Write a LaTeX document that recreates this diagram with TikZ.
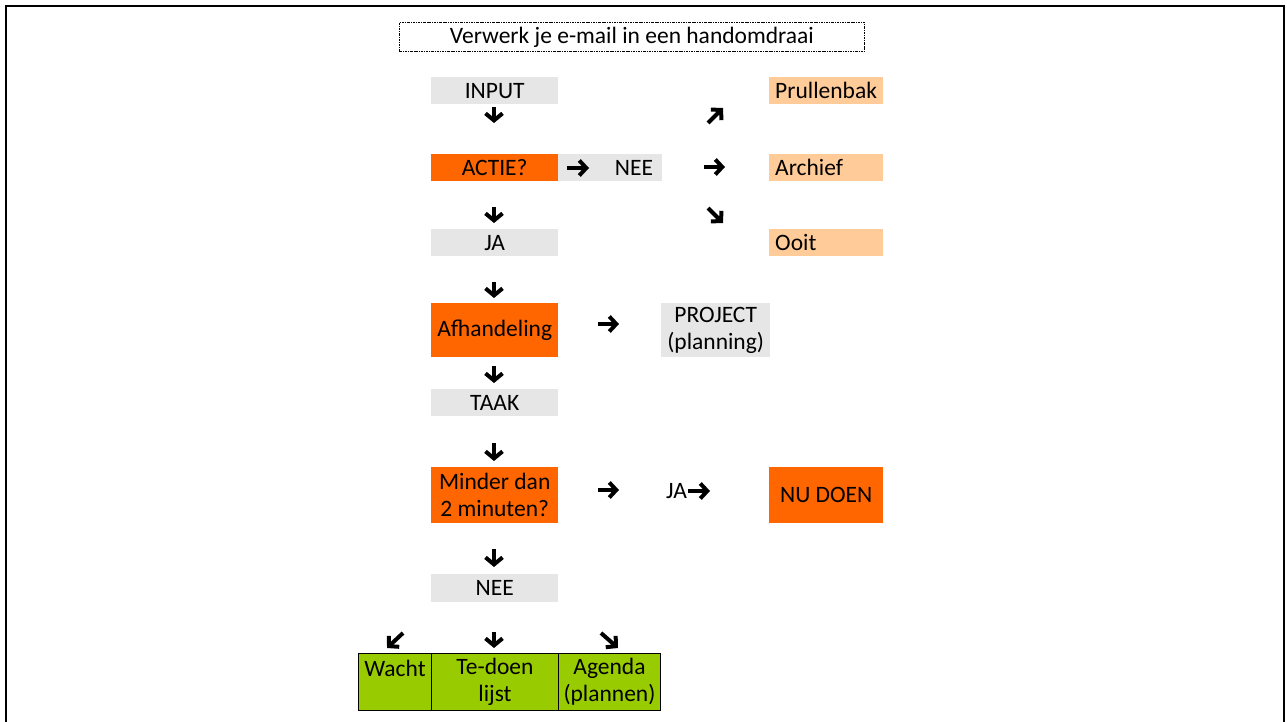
\documentclass[tikz,border=0pt]{standalone}
\usepackage{fontspec}
\setmainfont{Carlito}
\usetikzlibrary{arrows.meta}
\definecolor{oranje}{HTML}{FF6600}
\definecolor{grijs}{HTML}{E6E6E6}
\definecolor{perzik}{HTML}{FFCC99}
\definecolor{groen}{HTML}{99CC00}
\begin{document}
\begin{tikzpicture}[x=1pt,y=-1pt,
  box/.style={anchor=north west, inner sep=0pt, align=center, font=\fontsize{23.5}{27}\selectfont},
  greybox/.style={box, fill=grijs},
  orangebox/.style={box, fill=oranje},
  peachbox/.style={box, fill=perzik, align=left, text width=102pt, inner xsep=6pt, minimum height=27pt},
  greenbox/.style={box, fill=groen, draw=black, line width=1pt},
  plain/.style={inner sep=0pt, font=\fontsize{23.5}{27}\selectfont},
  warr/.style={line width=4pt, -{Straight Barb[length=7pt, width=15pt, line width=4pt]}},
  darr/.style={line width=4pt, -{Straight Barb[length=7pt, width=17pt, line width=4pt]}},
]
\useasboundingbox (0,0) rectangle (1287,722);
\begin{scope}
  \clip (0,0) rectangle (1287,722);
  \draw[line width=2.2pt] (6.3,6.3) rectangle (1283.7,760);
\end{scope}

% title
\node[box, draw, line width=0.8pt, dash pattern=on 2.5pt off 1pt on 0.8pt off 1pt,
      minimum width=465pt, minimum height=29pt] (title) at (399,22) {Verwerk je e-mail in een handomdraai};

% main column
\node[greybox, minimum width=127pt, minimum height=27pt] (input) at (431,77) {INPUT};
\node[orangebox, minimum width=127pt, minimum height=27pt] (actie) at (431,154) {ACTIE?};
\node[greybox, minimum width=104pt, minimum height=27pt] (nee1bg) at (558,154) {};
\node[plain] (nee1) at (634,168) {NEE};
\node[greybox, minimum width=127pt, minimum height=27pt] (ja1) at (431,229) {JA};
\node[orangebox, minimum width=127pt, minimum height=54pt] (afh) at (431,303) {Afhandeling};
\node[greybox, minimum width=109pt, minimum height=54pt] (project) at (661,303) {PROJECT\\(planning)};
\node[greybox, minimum width=127pt, minimum height=27pt] (taak) at (431,389) {TAAK};
\node[orangebox, minimum width=127pt, minimum height=56pt] (minder) at (431,467) {Minder dan\\2 minuten?};
\node[plain, anchor=west] (ja2) at (666,491) {JA};
\node[orangebox, minimum width=114pt, minimum height=56pt] (nudoen) at (769,467) {NU DOEN};
\node[greybox, minimum width=127pt, minimum height=28pt] (nee2) at (431,574) {NEE};

% right column
\node[peachbox] (prul) at (769,77) {Prullenbak};
\node[peachbox] (archief) at (769,154) {Archief};
\node[peachbox] (ooit) at (769,229) {Ooit};

% bottom row
\node[greenbox, minimum width=73pt, minimum height=57pt] (wacht) at (358,653) {Wacht\\~};
\node[greenbox, minimum width=127pt, minimum height=57pt] (tedoen) at (431,653) {Te-doen\\lijst};
\node[greenbox, minimum width=102pt, minimum height=57pt] (agenda) at (558,653) {Agenda\\(plannen)};

% arrow glyphs
\coordinate (a1s) at (494,107); \coordinate (a1e) at (494,123);
\draw[darr] (a1s) -- (a1e);
\coordinate (a2s) at (567,168); \coordinate (a2e) at (589,168);
\draw[warr] (a2s) -- (a2e);
\coordinate (a3s) at (708,123); \coordinate (a3e) at (723,108);
\draw[warr] (a3s) -- (a3e);
\coordinate (a4s) at (704,167); \coordinate (a4e) at (725,167);
\draw[warr] (a4s) -- (a4e);
\coordinate (a5s) at (708,208); \coordinate (a5e) at (723,223);
\draw[warr] (a5s) -- (a5e);
\coordinate (a6s) at (494,207); \coordinate (a6e) at (494,223);
\draw[darr] (a6s) -- (a6e);
\coordinate (a7s) at (494,282); \coordinate (a7e) at (494,298);
\draw[darr] (a7s) -- (a7e);
\coordinate (a8s) at (598,324); \coordinate (a8e) at (619,324);
\draw[warr] (a8s) -- (a8e);
\coordinate (a9s) at (494,366); \coordinate (a9e) at (494,383);
\draw[darr] (a9s) -- (a9e);
\coordinate (a10s) at (494,443); \coordinate (a10e) at (494,461);
\draw[darr] (a10s) -- (a10e);
\coordinate (a11s) at (598,490); \coordinate (a11e) at (619,490);
\draw[warr] (a11s) -- (a11e);
\coordinate (a12s) at (688,491); \coordinate (a12e) at (710,491);
\draw[warr] (a12s) -- (a12e);
\coordinate (a13s) at (494,549); \coordinate (a13e) at (494,567);
\draw[darr] (a13s) -- (a13e);
\coordinate (a14s) at (403,633); \coordinate (a14e) at (387,648);
\draw[warr] (a14s) -- (a14e);
\coordinate (a15s) at (494,632); \coordinate (a15e) at (494,648);
\draw[darr] (a15s) -- (a15e);
\coordinate (a16s) at (601,633); \coordinate (a16e) at (618,648);
\draw[warr] (a16s) -- (a16e);
\end{tikzpicture}
\end{document}
